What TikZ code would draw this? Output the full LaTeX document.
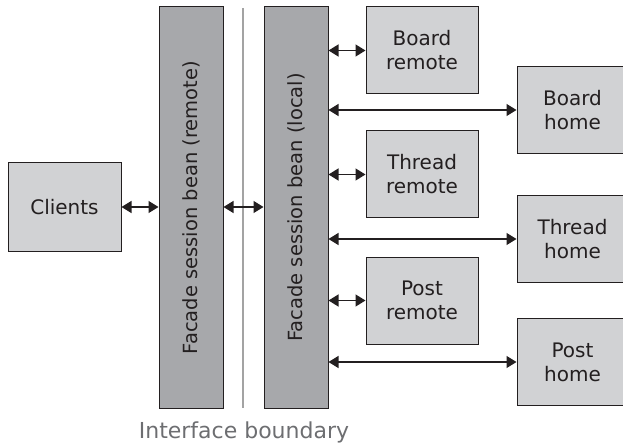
\documentclass[tikz,border=0pt]{standalone}
\usepackage{fontspec}
\setmainfont{DejaVu Sans}
\usetikzlibrary{arrows.meta}
\definecolor{darkfill}{HTML}{A7A8AB}
\definecolor{lightfill}{HTML}{D1D2D4}
\definecolor{ink}{HTML}{231F20}
\definecolor{boundary}{HTML}{A3A3A3}
\definecolor{boundtext}{HTML}{6D6E71}
\begin{document}
\begin{tikzpicture}[x=1pt,y=-1pt,
  lightbox/.style={draw=ink, line width=1pt, fill=lightfill, inner sep=0pt,
    align=center, text=ink, font=\fontsize{20}{24}\selectfont},
  darkbox/.style={draw=ink, line width=1pt, fill=darkfill, inner sep=0pt,
    minimum width=64pt, minimum height=401pt},
  vlabel/.style={rotate=90, text=ink, font=\fontsize{19.5}{24}\selectfont},
  remotebox/.style={lightbox, minimum width=112pt, minimum height=87pt},
  homebox/.style={lightbox, minimum width=111pt, minimum height=87pt},
  dbl/.style={{Triangle[length=10pt,width=12pt]}-{Triangle[length=10pt,width=12pt]}, line width=1.3pt, draw=ink}
]
\useasboundingbox (0,0) rectangle (623,446);

\node[lightbox, minimum width=113pt, minimum height=88pt] (clients) at (64.5,207) {Clients};
\node[darkbox] (remote) at (191,207.5) {};
\node[vlabel] (remotelabel) at (remote.center) {Facade session bean (remote)};
\node[darkbox] (local) at (296,207.5) {};
\node[vlabel] (locallabel) at (local.center) {Facade session bean (local)};

\coordinate (btop) at (243,8);
\coordinate (bbot) at (243,408);
\draw[boundary, line width=2.6pt] (btop) -- (bbot);
\node[text=boundtext, font=\fontsize{22}{26}\selectfont] (iface) at (244,432) {Interface boundary};

\node[remotebox] (br) at (422,50.5) {Board\\remote};
\node[remotebox] (tr) at (422,174.5) {Thread\\remote};
\node[remotebox] (pr) at (422,300.5) {Post\\remote};

\node[homebox] (bh) at (572.5,110) {Board\\home};
\node[homebox] (th) at (572.5,239) {Thread\\home};
\node[homebox] (ph) at (572.5,362) {Post\\home};

\draw[dbl] (clients.east) -- (clients.east -| remote.west);
\draw[dbl] (remote.east |- clients.east) -- (local.west |- clients.east);
\foreach \n in {br,tr,pr,bh,th,ph}{
  \draw[dbl] (\n.west -| local.east) -- (\n.west);
}
\end{tikzpicture}
\end{document}
